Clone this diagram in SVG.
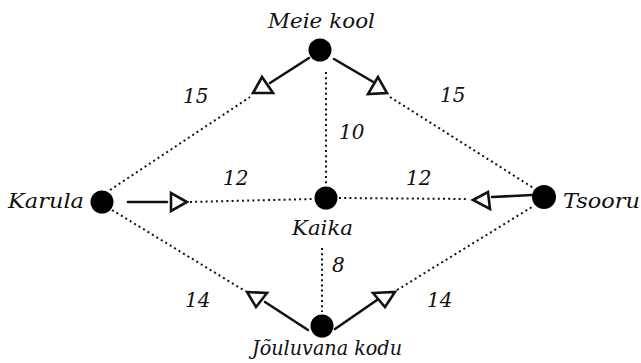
<svg xmlns="http://www.w3.org/2000/svg" width="641" height="363" viewBox="0 0 641 363">
<style>
.node{fill:#000}
.lbl{font-family:"DejaVu Serif","Liberation Serif",serif;font-style:italic;font-size:20px;fill:#111}
.num{font-family:"DejaVu Serif","Liberation Serif",serif;font-style:italic;font-size:20px;fill:#111}
.dot{stroke:#111;stroke-width:2;stroke-dasharray:2 3.2;fill:none}
.solid{stroke:#111;stroke-width:2.6;fill:none;stroke-linecap:round}
.tri{fill:#fff;stroke:#111;stroke-width:2.6;stroke-linejoin:miter}
</style>
<rect width="641" height="363" fill="#fff"/>
<g id="connectors">
  <line class="dot" x1="110" y1="190" x2="250" y2="97"/>
  <line class="dot" x1="390" y1="97" x2="535" y2="189"/>
  <line class="dot" x1="112" y1="210" x2="245" y2="291"/>
  <line class="dot" x1="397" y1="290" x2="532" y2="207"/>
  <line class="dot" x1="190" y1="202" x2="314" y2="199"/>
  <line class="dot" x1="339" y1="198" x2="468" y2="199"/>
  <line class="dot" x1="326" y1="72" x2="326" y2="185"/>
  <line class="dot" x1="322" y1="248" x2="322" y2="312"/>
  <line class="solid" x1="309" y1="58" x2="270" y2="83"/>
  <line class="solid" x1="334" y1="59" x2="375" y2="83"/>
  <line class="solid" x1="128" y1="202" x2="167" y2="202"/>
  <line class="solid" x1="492" y1="197" x2="532" y2="195"/>
  <line class="solid" x1="265" y1="302" x2="308" y2="330"/>
  <line class="solid" x1="335" y1="329" x2="377" y2="300"/>
  <polygon class="tri" points="262,77 253,93 273,93"/>
  <polygon class="tri" points="378,77 368,94 387,93"/>
  <polygon class="tri" points="171,193 171,211 187,202"/>
  <polygon class="tri" points="473,200 488,192 490,209"/>
  <polygon class="tri" points="247,292 267,293 256,307"/>
  <polygon class="tri" points="373,293 395,292 385,307"/>
  <text class="num" x="183" y="103">15</text>
  <text class="num" x="440" y="102">15</text>
  <text class="num" x="339" y="139">10</text>
  <text class="num" x="223" y="185">12</text>
  <text class="num" x="406" y="185">12</text>
  <text class="num" x="332" y="272">8</text>
  <text class="num" x="185" y="307">14</text>
  <text class="num" x="427" y="307">14</text>
</g>
<g id="meie-kool">
  <circle class="node" cx="320" cy="50" r="11.5"/>
  <text class="lbl" x="268" y="28" textLength="107" lengthAdjust="spacingAndGlyphs">Meie kool</text>
</g>
<g id="karula">
  <circle class="node" cx="102" cy="202" r="11.5"/>
  <text class="lbl" x="8" y="208" textLength="76" lengthAdjust="spacingAndGlyphs">Karula</text>
</g>
<g id="kaika">
  <circle class="node" cx="326" cy="198" r="11.5"/>
  <text class="lbl" x="292" y="235" textLength="61" lengthAdjust="spacingAndGlyphs">Kaika</text>
</g>
<g id="tsooru">
  <circle class="node" cx="544" cy="197" r="12"/>
  <text class="lbl" x="563" y="208" textLength="77" lengthAdjust="spacingAndGlyphs">Tsooru</text>
</g>
<g id="jouluvana-kodu">
  <circle class="node" cx="322" cy="326" r="11.5"/>
  <text class="lbl" x="252" y="355" textLength="150" lengthAdjust="spacingAndGlyphs">Jõuluvana kodu</text>
</g>
</svg>
